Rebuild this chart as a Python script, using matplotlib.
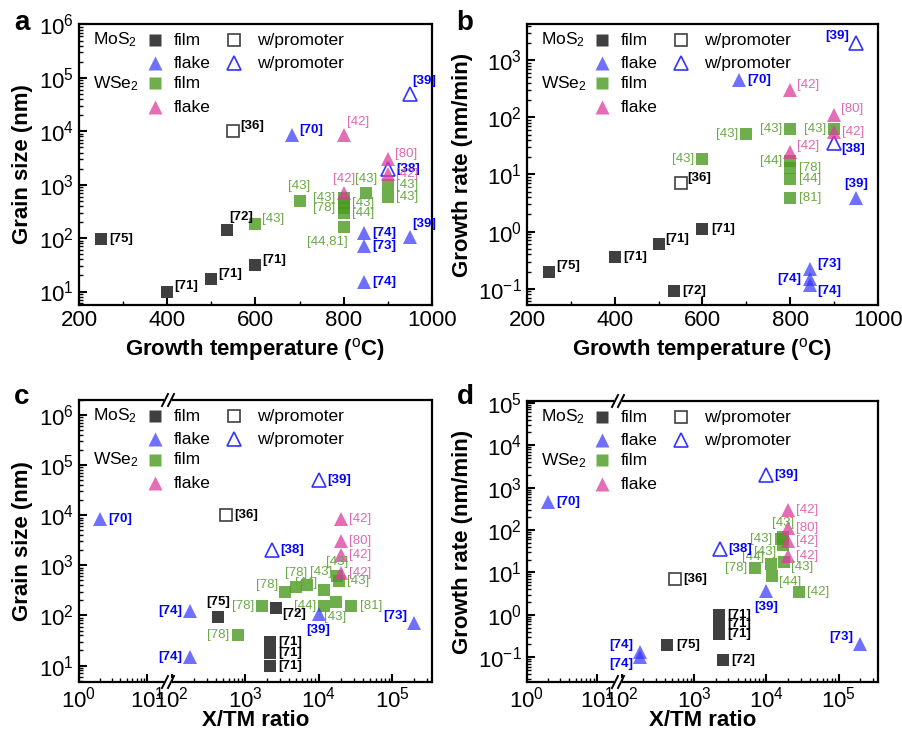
import matplotlib.pyplot as plt
import numpy as np
from matplotlib.ticker import LogLocator, NullFormatter, MultipleLocator
from matplotlib.lines import Line2D
from matplotlib.patches import Rectangle

plt.rcParams['font.family'] = ['Liberation Sans', 'DejaVu Sans']
plt.rcParams['mathtext.fontset'] = 'custom'
plt.rcParams['mathtext.rm'] = 'Liberation Sans'
plt.rcParams['mathtext.it'] = 'Liberation Sans:italic'
plt.rcParams['mathtext.bf'] = 'Liberation Sans:bold'

# ---------------- data ----------------
# panel a: growth temperature (C) vs grain size (nm)
a_mos2_film_x = [250, 400, 500, 600, 535]
a_mos2_film_y = [95, 10, 17, 31, 140]
a_mos2_film_ref = ['[75]', '[71]', '[71]', '[71]', '[72]']
a_mos2_prom_x = [550]
a_mos2_prom_y = [10000]
a_mos2_prom_ref = ['[36]']
a_mos2_flake_x = [683, 845, 845, 845, 950]
a_mos2_flake_y = [8500, 125, 70, 15, 105]
a_mos2_flake_ref = ['[70]', '[74]', '[73]', '[74]', '[39]']
a_mos2_flake_prom_x = [950, 900]
a_mos2_flake_prom_y = [50000, 2000]
a_mos2_flake_prom_ref = ['[39]', '[38]']
a_wse2_film_x = [600, 700, 850, 900, 900, 800, 800, 800, 800, 800]
a_wse2_film_y = [180, 500, 700, 1000, 600, 560, 450, 360, 300, 160]
a_wse2_film_ref = ['[43]', '[43]', '[43]', '[43]', '[43]', '[43]', '[43]', '[78]', '[44]', '[44,81]']
a_wse2_flake_x = [800, 900, 900, 800]
a_wse2_flake_y = [8500, 3000, 1600, 700]
a_wse2_flake_ref = ['[42]', '[80]', '[42]', '[42]']

# panel b: growth temperature (C) vs growth rate (nm/min)
b_mos2_film_x = [250, 400, 500, 600, 535]
b_mos2_film_y = [0.2, 0.36, 0.6, 1.1, 0.093]
b_mos2_film_ref = ['[75]', '[71]', '[71]', '[71]', '[72]']
b_mos2_prom_x = [550]
b_mos2_prom_y = [7]
b_mos2_prom_ref = ['[36]']
b_mos2_flake_x = [683, 950, 845, 845, 845]
b_mos2_flake_y = [450, 3.8, 0.22, 0.15, 0.115]
b_mos2_flake_ref = ['[70]', '[39]', '[73]', '[74]', '[74]']
b_mos2_flake_prom_x = [950, 900]
b_mos2_flake_prom_y = [2000, 35]
b_mos2_flake_prom_ref = ['[39]', '[38]']
b_wse2_film_x = [600, 700, 800, 900, 800, 800, 800, 800]
b_wse2_film_y = [19, 52, 62, 62, 17, 13, 8.5, 3.8]
b_wse2_film_ref = ['[43]', '[43]', '[43]', '[43]', '[44]', '[78]', '[44]', '[81]']
b_wse2_flake_x = [800, 900, 900, 800]
b_wse2_flake_y = [300, 110, 55, 25]
b_wse2_flake_ref = ['[42]', '[80]', '[42]', '[42]']

# panel c: X/TM ratio vs grain size (nm)
c_mos2_film_x = [430, 2600, 2200, 2200, 2200]
c_mos2_film_y = [95, 140, 30, 17.5, 10]
c_mos2_film_ref = ['[75]', '[72]', '[71]', '[71]', '[71]']
c_mos2_prom_x = [550]
c_mos2_prom_y = [10000]
c_mos2_prom_ref = ['[36]']
c_mos2_flake_x = [2, 180, 180, 10000, 200000]
c_mos2_flake_y = [8500, 125, 15, 105, 70]
c_mos2_flake_ref = ['[70]', '[74]', '[74]', '[39]', '[73]']
c_mos2_flake_prom_x = [10000, 2300]
c_mos2_flake_prom_y = [50000, 2000]
c_mos2_flake_prom_ref = ['[39]', '[38]']
c_wse2_film_x = [800, 1700, 3500, 5000, 7000, 12000, 12000, 17000, 28000, 18000, 19000]
c_wse2_film_y = [40, 155, 300, 370, 400, 320, 155, 190, 155, 600, 480]
c_wse2_film_ref = ['[78]', '[78]', '[78]', '[78]', '[43]', '[44]', '[44]', '[43]', '[81]', '[43]', '[43]']
c_wse2_flake_x = [20000, 20000, 20000, 20000]
c_wse2_flake_y = [8500, 3000, 1600, 700]
c_wse2_flake_ref = ['[42]', '[80]', '[42]', '[42]']

# panel d: X/TM ratio vs growth rate (nm/min)
d_mos2_film_x = [430, 2500, 2200, 2200, 2200]
d_mos2_film_y = [0.19, 0.085, 1.0, 0.6, 0.35]
d_mos2_film_ref = ['[75]', '[72]', '[71]', '[71]', '[71]']
d_mos2_prom_x = [550]
d_mos2_prom_y = [7]
d_mos2_prom_ref = ['[36]']
d_mos2_flake_x = [2, 180, 180, 10000, 200000]
d_mos2_flake_y = [450, 0.13, 0.1, 3.6, 0.2]
d_mos2_flake_ref = ['[70]', '[74]', '[74]', '[39]', '[73]']
d_mos2_flake_prom_x = [10000, 2300]
d_mos2_flake_prom_y = [2000, 35]
d_mos2_flake_prom_ref = ['[39]', '[38]']
d_wse2_film_x = [7000, 12000, 28000, 11500, 17500, 17000, 16000, 17000]
d_wse2_film_y = [13, 8, 3.5, 16, 18, 68, 60, 45]
d_wse2_film_ref = ['[78]', '[44]', '[42]', '[44]', '[43]', '[43]', '[43]', '[43]']
d_wse2_flake_x = [20000, 20000, 20000, 20000]
d_wse2_flake_y = [300, 110, 55, 25]
d_wse2_flake_ref = ['[42]', '[80]', '[42]', '[42]']

# ---------------- label placement ----------------
a_pos = {'mos2_film': ['r', 'ru', 'ru', 'ru', 'ur'], 'mos2_prom': ['ru'],
         'mos2_flake': ['ru', 'r', 'r', 'r', 'ur'], 'mos2_flake_prom': ['ur', 'r'],
         'wse2_film': ['ru', 'u', 'u', 'r', 'r', 'l', 'r', 'l', 'r', 'dl'],
         'wse2_flake': ['ur', 'ru', 'r', 'u']}
b_pos = {'mos2_film': ['ru', 'r', 'ru', 'r', 'r'], 'mos2_prom': ['ru'],
         'mos2_flake': ['r', 'u', 'ru', 'l', 'rd'], 'mos2_flake_prom': ['lu', 'rd'],
         'wse2_film': ['l', 'l', 'l', 'l', 'l', 'r', 'r', 'r'],
         'wse2_flake': ['ru', 'ru', 'r', 'ru']}
c_pos = {'mos2_film': ['u', 'rd', 'r', 'r', 'r'], 'mos2_prom': ['r'],
         'mos2_flake': ['r', 'l', 'l', 'd', 'lu'], 'mos2_flake_prom': ['r', 'r'],
         'wse2_film': ['l', 'l', 'lu', 'u', 'ur', 'lu', 'l', 'd', 'r', 'u', 'r'],
         'wse2_flake': ['r', 'r', 'r', 'r']}
d_pos = {'mos2_film': ['r', 'r', 'r', 'r', 'r'], 'mos2_prom': ['r'],
         'mos2_flake': ['r', 'lu', 'ld', 'd', 'lu'], 'mos2_flake_prom': ['r', 'r'],
         'wse2_film': ['l', 'rd', 'r', 'lu', 'rd', 'u', 'l', 'ld'],
         'wse2_flake': ['r', 'r', 'r', 'r']}

OFFS = {'r': (6, 0, 'left', 'center'), 'ru': (5, 4, 'left', 'center'),
        'rd': (5, -4, 'left', 'center'), 'l': (-6, 0, 'right', 'center'),
        'lu': (-5, 5, 'right', 'center'), 'ld': (-5, -5, 'right', 'center'),
        'u': (0, 6, 'center', 'bottom'), 'ur': (2, 5, 'left', 'bottom'),
        'd': (0, -7, 'center', 'top'), 'dl': (3, -6, 'right', 'top')}

STY = {
    'mos2_film': dict(marker='s', ms=8, mfc='#404040', mec='none', alpha=1, tc='black', tw='bold'),
    'mos2_prom': dict(marker='s', ms=8, mfc='none', mec='#404040', alpha=1, tc='black', tw='bold'),
    'mos2_flake': dict(marker='^', ms=10.5, mfc='#3333ff', mec='none', alpha=0.7, tc='#0000ff', tw='bold'),
    'mos2_flake_prom': dict(marker='^', ms=10.5, mfc='none', mec='#3333ff', alpha=1, tc='#0000ff', tw='bold'),
    'wse2_film': dict(marker='s', ms=8, mfc='#4a9a20', mec='none', alpha=0.8, tc='#6aaa45', tw='normal'),
    'wse2_flake': dict(marker='^', ms=10.5, mfc='#dd3c9c', mec='none', alpha=0.75, tc='#e06ab2', tw='normal'),
}

W, H = 903, 734
fig = plt.figure(figsize=(9.03, 7.34), dpi=100)


def rect(l, t, r, b):
    return [l / W, 1 - b / H, (r - l) / W, (b - t) / H]


def plot_series(axes, x, y, refs, pos, kind):
    st = STY[kind]
    for xi, yi, r, p in zip(x, y, refs, pos):
        ax = axes[0] if (len(axes) == 1 or xi < 30) else axes[1]
        ax.plot([xi], [yi], ls='none', marker=st['marker'], ms=st['ms'], mfc=st['mfc'],
                mec=st['mec'], mew=1.2, alpha=st['alpha'], zorder=3, clip_on=False)
        dx, dy, ha, va = OFFS[p]
        ax.annotate(r, (xi, yi), xytext=(dx, dy), textcoords='offset points', ha=ha, va=va,
                    fontsize=9.5, color=st['tc'], fontweight=st['tw'], zorder=4)


def style_axes(ax, ylog=True, show_y=True):
    ax.tick_params(which='both', direction='in', top=False, right=False, labelsize=16)
    ax.tick_params(which='major', length=6, width=1.5)
    ax.tick_params(which='minor', length=3, width=1)
    if not show_y:
        ax.tick_params(which='both', left=False, labelleft=False)
    for s in ax.spines.values():
        s.set_linewidth(1.6)
    if ylog:
        ax.set_yscale('log')
        ax.yaxis.set_major_locator(LogLocator(base=10, numticks=30))
        ax.yaxis.set_minor_locator(LogLocator(base=10, subs=np.arange(2, 10), numticks=30))
        ax.yaxis.set_minor_formatter(NullFormatter())


def log_x(ax, lo, hi):
    ax.set_xscale('log')
    ax.set_xlim(lo, hi)
    ax.xaxis.set_major_locator(LogLocator(base=10, numticks=20))
    ax.xaxis.set_minor_locator(LogLocator(base=10, subs=np.arange(2, 10), numticks=30))
    ax.xaxis.set_minor_formatter(NullFormatter())


def draw_legend(ax):
    t = ax.transAxes
    rows = [0.943, 0.86, 0.789, 0.704]
    ax.text(0.04, rows[0], 'MoS$_2$', transform=t, fontsize=12.5, va='center')
    ax.text(0.04, rows[2], 'WSe$_2$', transform=t, fontsize=12.5, va='center')
    items = [(rows[0], 'mos2_film', 'film', 'mos2_prom'),
             (rows[1], 'mos2_flake', 'flake', 'mos2_flake_prom'),
             (rows[2], 'wse2_film', 'film', None),
             (rows[3], 'wse2_flake', 'flake', None)]
    for yy, k, lab, kp in items:
        st = STY[k]
        ax.plot([0.215], [yy], transform=t, ls='none', marker=st['marker'], ms=st['ms'],
                mfc=st['mfc'], mec=st['mec'], alpha=st['alpha'], clip_on=False)
        ax.text(0.267, yy, lab, transform=t, fontsize=12.5, va='center')
        if kp:
            sp = STY[kp]
            ax.plot([0.439], [yy], transform=t, ls='none', marker=sp['marker'], ms=sp['ms'],
                    mfc=sp['mfc'], mec=sp['mec'], mew=1.2, clip_on=False)
            ax.text(0.503, yy, 'w/promoter', transform=t, fontsize=12.5, va='center')


def draw_break(xp, yp):
    fig.add_artist(Rectangle(((xp - 4) / W, 1 - (yp + 4) / H), 8 / W, 8 / H,
                             transform=fig.transFigure, fc='white', ec='none', zorder=20))
    for dx in (-3, 3):
        fig.add_artist(Line2D([(xp + dx - 3) / W, (xp + dx + 3) / W],
                              [1 - (yp + 6) / H, 1 - (yp - 6) / H],
                              transform=fig.transFigure, color='black', lw=1.4, zorder=21))


def draw_panel(axes, data, pos):
    for k in ['wse2_film', 'mos2_film', 'mos2_prom', 'mos2_flake', 'mos2_flake_prom', 'wse2_flake']:
        x, y, refs = data[k]
        plot_series(axes, x, y, refs, pos[k], k)


# ---------------- panels a, b ----------------
ax_a = fig.add_axes(rect(79, 24, 432, 305))
ax_b = fig.add_axes(rect(527, 24, 878, 305))
data_a = {'mos2_film': (a_mos2_film_x, a_mos2_film_y, a_mos2_film_ref),
          'mos2_prom': (a_mos2_prom_x, a_mos2_prom_y, a_mos2_prom_ref),
          'mos2_flake': (a_mos2_flake_x, a_mos2_flake_y, a_mos2_flake_ref),
          'mos2_flake_prom': (a_mos2_flake_prom_x, a_mos2_flake_prom_y, a_mos2_flake_prom_ref),
          'wse2_film': (a_wse2_film_x, a_wse2_film_y, a_wse2_film_ref),
          'wse2_flake': (a_wse2_flake_x, a_wse2_flake_y, a_wse2_flake_ref)}
data_b = {'mos2_film': (b_mos2_film_x, b_mos2_film_y, b_mos2_film_ref),
          'mos2_prom': (b_mos2_prom_x, b_mos2_prom_y, b_mos2_prom_ref),
          'mos2_flake': (b_mos2_flake_x, b_mos2_flake_y, b_mos2_flake_ref),
          'mos2_flake_prom': (b_mos2_flake_prom_x, b_mos2_flake_prom_y, b_mos2_flake_prom_ref),
          'wse2_film': (b_wse2_film_x, b_wse2_film_y, b_wse2_film_ref),
          'wse2_flake': (b_wse2_flake_x, b_wse2_flake_y, b_wse2_flake_ref)}

for ax, data, pos, ylim, ylab in [(ax_a, data_a, a_pos, (5.6, 1.02e6), 'Grain size (nm)'),
                                  (ax_b, data_b, b_pos, (0.052, 4300), 'Growth rate (nm/min)')]:
    style_axes(ax)
    ax.set_xlim(200, 1000)
    ax.set_ylim(*ylim)
    ax.xaxis.set_major_locator(MultipleLocator(200))
    ax.xaxis.set_minor_locator(MultipleLocator(100))
    draw_panel([ax], data, pos)
    draw_legend(ax)
    ax.set_xlabel('Growth temperature ($^{\\mathrm{o}}$C)', fontsize=16, fontweight='bold')
    ax.set_ylabel(ylab, fontsize=16, fontweight='bold')

# ---------------- panels c, d (broken x axis) ----------------
data_c = {'mos2_film': (c_mos2_film_x, c_mos2_film_y, c_mos2_film_ref),
          'mos2_prom': (c_mos2_prom_x, c_mos2_prom_y, c_mos2_prom_ref),
          'mos2_flake': (c_mos2_flake_x, c_mos2_flake_y, c_mos2_flake_ref),
          'mos2_flake_prom': (c_mos2_flake_prom_x, c_mos2_flake_prom_y, c_mos2_flake_prom_ref),
          'wse2_film': (c_wse2_film_x, c_wse2_film_y, c_wse2_film_ref),
          'wse2_flake': (c_wse2_flake_x, c_wse2_flake_y, c_wse2_flake_ref)}
data_d = {'mos2_film': (d_mos2_film_x, d_mos2_film_y, d_mos2_film_ref),
          'mos2_prom': (d_mos2_prom_x, d_mos2_prom_y, d_mos2_prom_ref),
          'mos2_flake': (d_mos2_flake_x, d_mos2_flake_y, d_mos2_flake_ref),
          'mos2_flake_prom': (d_mos2_flake_prom_x, d_mos2_flake_prom_y, d_mos2_flake_prom_ref),
          'wse2_film': (d_wse2_film_x, d_wse2_film_y, d_wse2_film_ref),
          'wse2_flake': (d_wse2_flake_x, d_wse2_flake_y, d_wse2_flake_ref)}

for (l, brk, r, t, b), data, pos, ylim, ylab in [
        ((79, 168, 432, 400, 682), data_c, c_pos, (4.7, 2e6), 'Grain size (nm)'),
        ((527, 618, 878, 401, 682), data_d, d_pos, (0.026, 1.1e5), 'Growth rate (nm/min)')]:
    axl = fig.add_axes(rect(l, t, brk, b))
    axr = fig.add_axes(rect(brk, t, r, b))
    style_axes(axl)
    style_axes(axr, show_y=False)
    log_x(axl, 1, 20)
    log_x(axr, 89, 3.5e5)
    for ax in (axl, axr):
        ax.set_ylim(*ylim)
    axl.spines['right'].set_visible(False)
    axr.spines['left'].set_visible(False)
    draw_panel([axl, axr], data, pos)
    axl.set_ylabel(ylab, fontsize=16, fontweight='bold')
    leg = fig.add_axes(rect(l, t, r, b))
    leg.axis('off')
    draw_legend(leg)
    draw_break(brk, t)
    draw_break(brk, b)
    fig.text((l + r) / 2 / W, 1 - 720 / H, 'X/TM ratio', fontsize=16, fontweight='bold',
             ha='center', va='center')

# panel letters
for s, xp, yp in [('a', 22, 23), ('b', 465, 23), ('c', 22, 397), ('d', 465, 397)]:
    fig.text(xp / W, 1 - yp / H, s, fontsize=20, fontweight='bold', ha='center', va='center')

plt.savefig('out.png', dpi=100)
